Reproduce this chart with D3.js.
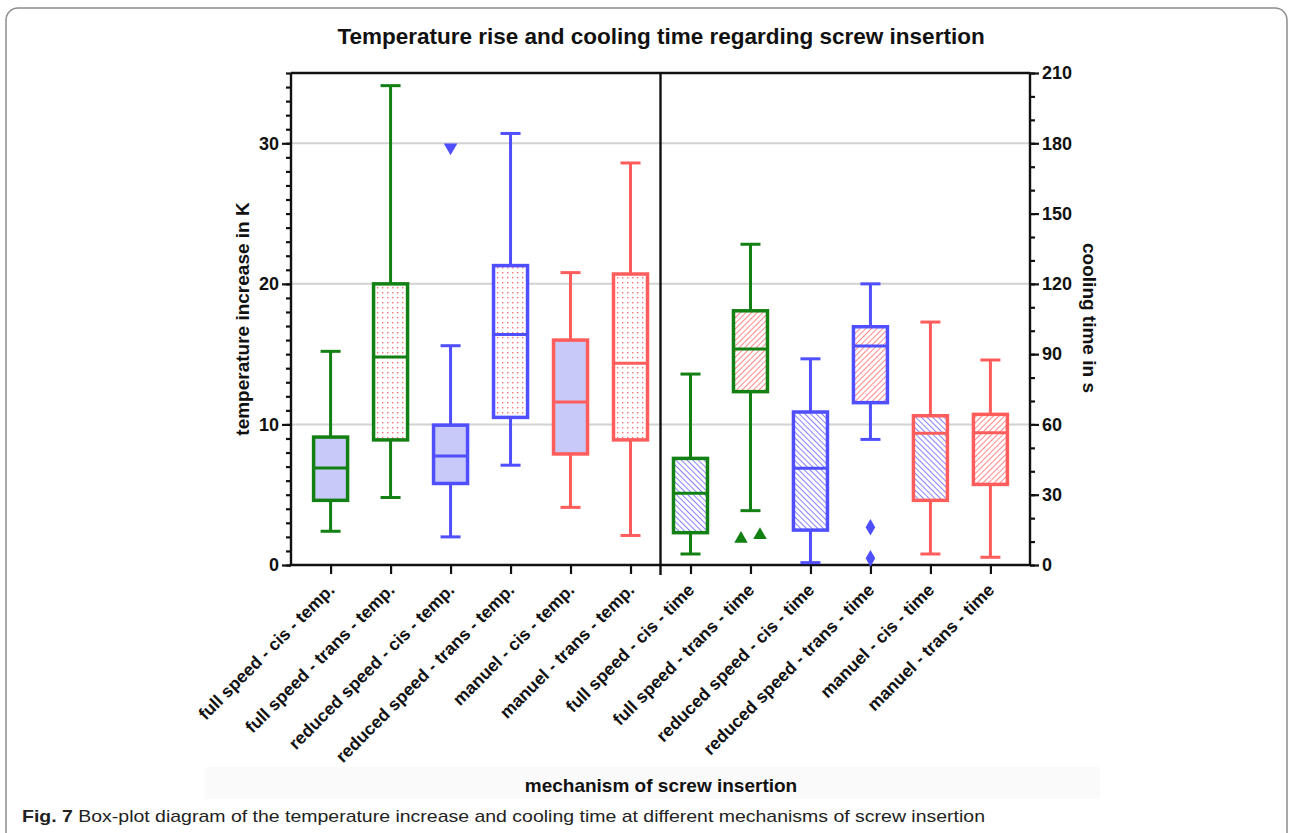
<!DOCTYPE html>
<html>
<head>
<meta charset="utf-8">
<script src="https://cdn.jsdelivr.net/npm/d3@7"></script>
<style>
  body { margin: 0; background: #fff; }
  svg { display: block; }
  svg text { font-family: "Liberation Sans", Arial, sans-serif; }
</style>
</head>
<body>
<div id="chart"></div>
<script>
// categories along the x axis (first six: temperature in K, last six: cooling time in s)
var categories = [
  "full speed - cis - temp.", "full speed - trans - temp.",
  "reduced speed - cis - temp.", "reduced speed - trans - temp.",
  "manuel - cis - temp.", "manuel - trans - temp.",
  "full speed - cis - time", "full speed - trans - time",
  "reduced speed - cis - time", "reduced speed - trans - time",
  "manuel - cis - time", "manuel - trans - time"
];
var measure = ["temp","temp","temp","temp","temp","temp","time","time","time","time","time","time"];
var mechanism = ["full","full","reduced","reduced","manuel","manuel","full","full","reduced","reduced","manuel","manuel"];
var side = ["cis","trans","cis","trans","cis","trans","cis","trans","cis","trans","cis","trans"];

// box plot values
var lowerWhisker = [2.4, 4.8, 2.0, 7.1, 4.1, 2.1, 4.7, 23.2, 1.0, 53.6, 4.7, 3.3];
var q1           = [4.6, 8.9, 5.8, 10.5, 7.9, 8.9, 13.8, 74.0, 14.9, 69.3, 27.6, 34.4];
var median       = [6.9, 14.8, 7.75, 16.4, 11.6, 14.35, 30.6, 92.2, 41.3, 93.5, 56.2, 56.5];
var q3           = [9.1, 20.0, 9.95, 21.3, 16.0, 20.7, 45.5, 108.5, 65.3, 101.7, 63.7, 64.3];
var upperWhisker = [15.2, 34.1, 15.6, 30.7, 20.8, 28.6, 81.5, 136.9, 88.0, 120.0, 103.7, 87.5];

// outliers: category index, value
var outlierCat   = [2, 7, 7, 9, 9];
var outlierValue = [29.7, 11.2, 12.8, 16.1, 2.85];

var leftTicks = [0, 10, 20, 30];
var rightTicks = [0, 30, 60, 90, 120, 150, 180, 210];

var width = 1290, height = 833;
var plotLeft = 291, plotRight = 1030, plotTop = 73, plotBottom = 565;
var font = "'Liberation Sans', Arial, sans-serif";

var colors = { full: "#138013", reduced: "#4f4fff", manuel: "#ff5c5c" };
var shapes = { full: d3.symbolTriangle, reduced: d3.symbolDiamond, manuel: d3.symbolCircle };

var svg = d3.select("#chart").append("svg")
  .attr("width", width)
  .attr("height", height);

// patterns used to fill the boxes
var defs = svg.append("defs");
var dots = defs.append("pattern")
  .attr("id", "dots").attr("patternUnits", "userSpaceOnUse")
  .attr("width", 5).attr("height", 5);
dots.append("rect").attr("width", 5).attr("height", 5).attr("fill", "#fff");
dots.append("rect").attr("x", 2).attr("y", 2).attr("width", 1.4).attr("height", 1.4).attr("fill", "#ff7070");

function hatch(id, color, angle){
  var p = defs.append("pattern")
    .attr("id", id).attr("patternUnits", "userSpaceOnUse")
    .attr("width", 4).attr("height", 4)
    .attr("patternTransform", "rotate(" + angle + ")");
  p.append("rect").attr("width", 4).attr("height", 4).attr("fill", "#fff");
  p.append("line").attr("x1", 0).attr("y1", 0).attr("x2", 0).attr("y2", 4)
    .attr("stroke", color).attr("stroke-width", 1.5);
}
hatch("hatchBlue", "#5a5aff", -45);
hatch("hatchRed", "#ff6060", 45);

function boxFill(i){
  if (measure[i] === "temp") return side[i] === "cis" ? "#c9c9f9" : "url(#dots)";
  return side[i] === "cis" ? "url(#hatchBlue)" : "url(#hatchRed)";
}

// frame around the figure
svg.append("rect")
  .attr("x", 6).attr("y", 8).attr("width", 1281).attr("height", 900)
  .attr("rx", 12).attr("fill", "none").attr("stroke", "#8c8c8c").attr("stroke-width", 1.5);

// scales
var x = d3.scalePoint().domain(categories).range([plotLeft, plotRight]).padding(0.66);
var yLeft = d3.scaleLinear().domain([0, 35]).range([plotBottom, plotTop]);
var yRight = d3.scaleLinear().domain([0, 210]).range([plotBottom, plotTop]);
function yOf(i, v){ return measure[i] === "temp" ? yLeft(v) : yRight(v); }

// grid lines
svg.append("g").selectAll("line")
  .data(leftTicks.slice(1))
  .enter().append("line")
    .attr("x1", plotLeft).attr("x2", plotRight)
    .attr("y1", function(d){ return yLeft(d); })
    .attr("y2", function(d){ return yLeft(d); })
    .attr("stroke", "#d2d2d2").attr("stroke-width", 2);

// axes
var minorLeft = svg.append("g").attr("transform", "translate(" + plotLeft + ",0)")
  .call(d3.axisLeft(yLeft).tickValues(d3.range(0, 36, 1)).tickSize(5).tickFormat(""));
var leftAxis = svg.append("g").attr("transform", "translate(" + plotLeft + ",0)")
  .call(d3.axisLeft(yLeft).tickValues(leftTicks).tickSize(9).tickPadding(3));
var minorRight = svg.append("g").attr("transform", "translate(" + plotRight + ",0)")
  .call(d3.axisRight(yRight).tickValues(d3.range(0, 211, 10)).tickSize(5).tickFormat(""));
var rightAxis = svg.append("g").attr("transform", "translate(" + plotRight + ",0)")
  .call(d3.axisRight(yRight).tickValues(rightTicks).tickSize(9).tickPadding(3));
var xAxis = svg.append("g").attr("transform", "translate(0," + plotBottom + ")")
  .call(d3.axisBottom(x).tickSize(9).tickFormat(""));

[minorLeft, leftAxis, minorRight, rightAxis, xAxis].forEach(function(g){
  g.attr("font-family", font);
  g.selectAll(".domain").remove();
  g.selectAll(".tick line").attr("stroke", "#111").attr("stroke-width", 2.2);
  g.selectAll("text").attr("font-size", 18).attr("font-weight", "bold").attr("fill", "#111")
    .attr("font-family", font);
});

// frame lines: left, right, top, bottom and middle divider
var frame = svg.append("g").attr("stroke", "#111").attr("stroke-width", 2.4);
frame.append("line").attr("x1", plotLeft).attr("x2", plotLeft).attr("y1", plotTop).attr("y2", plotBottom);
frame.append("line").attr("x1", plotRight).attr("x2", plotRight).attr("y1", plotTop).attr("y2", plotBottom);
frame.append("line").attr("x1", plotLeft).attr("x2", plotRight).attr("y1", plotTop).attr("y2", plotTop);
frame.append("line").attr("x1", plotLeft - 1).attr("x2", plotRight + 1).attr("y1", plotBottom).attr("y2", plotBottom);
var divX = (x(categories[5]) + x(categories[6])) / 2;
frame.append("line").attr("x1", divX).attr("x2", divX).attr("y1", plotTop).attr("y2", plotBottom + 10);

// x labels rotated
svg.append("g").selectAll("text")
  .data(categories)
  .enter().append("text")
    .attr("transform", function(d){ return "translate(" + (x(d) + 5) + "," + (plotBottom + 26) + ") rotate(-45)"; })
    .attr("text-anchor", "end")
    .attr("font-family", font)
    .attr("font-size", 17.5).attr("font-weight", "bold").attr("fill", "#111")
    .text(function(d){ return d; });

// boxes
var boxW = 34, capW = 20;
var boxes = svg.append("g").selectAll("g")
  .data(categories)
  .enter().append("g")
    .attr("stroke", function(d, i){ return colors[mechanism[i]]; })
    .attr("fill", "none");

boxes.append("line")
  .attr("x1", function(d){ return x(d); }).attr("x2", function(d){ return x(d); })
  .attr("y1", function(d, i){ return yOf(i, upperWhisker[i]); })
  .attr("y2", function(d, i){ return yOf(i, q3[i]); })
  .attr("stroke-width", 3);
boxes.append("line")
  .attr("x1", function(d){ return x(d); }).attr("x2", function(d){ return x(d); })
  .attr("y1", function(d, i){ return yOf(i, q1[i]); })
  .attr("y2", function(d, i){ return yOf(i, lowerWhisker[i]); })
  .attr("stroke-width", 3);
boxes.append("line")
  .attr("x1", function(d){ return x(d) - capW / 2; }).attr("x2", function(d){ return x(d) + capW / 2; })
  .attr("y1", function(d, i){ return yOf(i, upperWhisker[i]); })
  .attr("y2", function(d, i){ return yOf(i, upperWhisker[i]); })
  .attr("stroke-width", 3);
boxes.append("line")
  .attr("x1", function(d){ return x(d) - capW / 2; }).attr("x2", function(d){ return x(d) + capW / 2; })
  .attr("y1", function(d, i){ return yOf(i, lowerWhisker[i]); })
  .attr("y2", function(d, i){ return yOf(i, lowerWhisker[i]); })
  .attr("stroke-width", 3);
boxes.append("rect")
  .attr("x", function(d){ return x(d) - boxW / 2; })
  .attr("width", boxW)
  .attr("y", function(d, i){ return yOf(i, q3[i]); })
  .attr("height", function(d, i){ return yOf(i, q1[i]) - yOf(i, q3[i]); })
  .attr("fill", function(d, i){ return boxFill(i); })
  .attr("stroke-width", 3.5);
boxes.append("line")
  .attr("x1", function(d){ return x(d) - boxW / 2; }).attr("x2", function(d){ return x(d) + boxW / 2; })
  .attr("y1", function(d, i){ return yOf(i, median[i]); })
  .attr("y2", function(d, i){ return yOf(i, median[i]); })
  .attr("stroke-width", 3);

// outliers, spread sideways when they would overlap
var outliers = outlierCat.map(function(c, k){ return { cat: c, value: outlierValue[k], py: yOf(c, outlierValue[k]) }; });
outliers.forEach(function(o){
  var close = outliers.filter(function(p){ return p.cat === o.cat && Math.abs(p.py - o.py) < 14; });
  var idx = close.indexOf(o);
  o.dx = close.length > 1 ? (idx - (close.length - 1) / 2) * 19 : 0;
});
svg.append("g").selectAll("path")
  .data(outliers)
  .enter().append("path")
    .attr("d", function(o){
      var sh = measure[o.cat] === "temp" && mechanism[o.cat] === "reduced" ? d3.symbolTriangle : shapes[mechanism[o.cat]];
      return d3.symbol().type(sh).size(80)();
    })
    .attr("transform", function(o){
      var rot = measure[o.cat] === "temp" ? " rotate(180)" : "";
      return "translate(" + (x(categories[o.cat]) + o.dx) + "," + o.py + ")" + rot;
    })
    .attr("fill", function(o){ return colors[mechanism[o.cat]]; });

// titles
svg.append("text")
  .attr("x", 661).attr("y", 44)
  .attr("text-anchor", "middle")
  .attr("font-family", font)
  .attr("font-size", 22.5).attr("font-weight", "bold").attr("fill", "#111")
  .text("Temperature rise and cooling time regarding screw insertion");

svg.append("text")
  .attr("transform", "translate(249,319) rotate(-90)")
  .attr("text-anchor", "middle")
  .attr("font-family", font)
  .attr("font-size", 19).attr("font-weight", "bold").attr("fill", "#111")
  .text("temperature increase in K");

svg.append("text")
  .attr("transform", "translate(1083,318) rotate(90)")
  .attr("text-anchor", "middle")
  .attr("font-family", font)
  .attr("font-size", 19).attr("font-weight", "bold").attr("fill", "#111")
  .text("cooling time in s");

svg.append("rect")
  .attr("x", 205).attr("y", 767).attr("width", 895).attr("height", 32)
  .attr("fill", "#fafafa");
svg.append("text")
  .attr("x", 661).attr("y", 792)
  .attr("text-anchor", "middle")
  .attr("font-family", font)
  .attr("font-size", 19).attr("font-weight", "bold").attr("fill", "#111")
  .text("mechanism of screw insertion");

// caption
var caption = svg.append("text")
  .attr("x", 22).attr("y", 822)
  .attr("font-size", 17).attr("fill", "#222")
  .attr("font-family", "'Liberation Sans Narrow', 'Open Sans', sans-serif")
  .attr("textLength", 963).attr("lengthAdjust", "spacingAndGlyphs");
caption.append("tspan").attr("font-weight", "bold").text("Fig. 7");
caption.append("tspan").text("  Box-plot diagram of the temperature increase and cooling time at different mechanisms of screw insertion");
</script>
</body>
</html>
